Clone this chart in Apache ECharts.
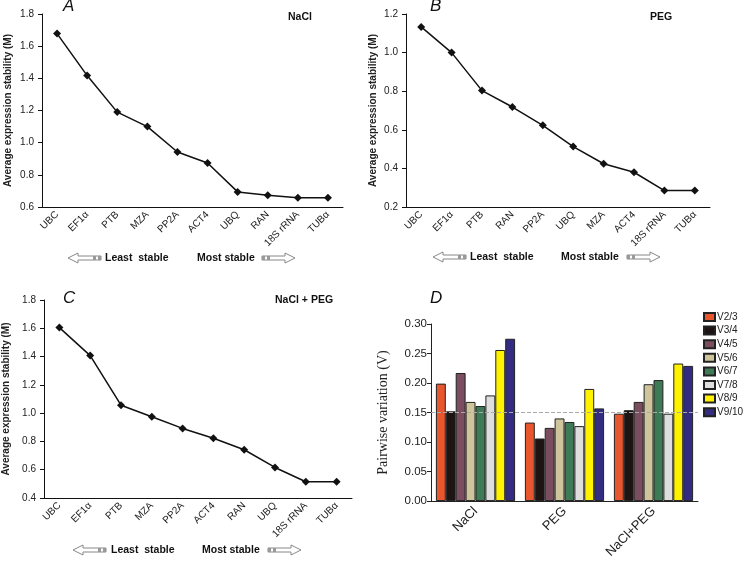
<!DOCTYPE html>
<html>
<head>
<meta charset="utf-8">
<script src="https://cdn.jsdelivr.net/npm/echarts@6/dist/echarts.min.js"></script>
<style>
  body { margin: 0; background: #fff; }
  #chart { width: 746px; height: 561px; }
</style>
</head>
<body>
<div id="chart"></div>
<script>
// panel A - NaCl
const catsNaCl = ['UBC', 'EF1α', 'PTB', 'MZA', 'PP2A', 'ACT4', 'UBQ', 'RAN', '18S rRNA', 'TUBα'];
const valsNaCl = [1.678, 1.417, 1.19, 1.10, 0.942, 0.874, 0.694, 0.673, 0.658, 0.658];
// panel B - PEG
const catsPEG = ['UBC', 'EF1α', 'PTB', 'RAN', 'PP2A', 'UBQ', 'MZA', 'ACT4', '18S rRNA', 'TUBα'];
const valsPEG = [1.133, 1.0, 0.803, 0.718, 0.623, 0.513, 0.424, 0.38, 0.285, 0.285];
// panel C - NaCl + PEG
const catsBoth = ['UBC', 'EF1α', 'PTB', 'MZA', 'PP2A', 'ACT4', 'RAN', 'UBQ', '18S rRNA', 'TUBα'];
const valsBoth = [1.605, 1.407, 1.056, 0.974, 0.892, 0.823, 0.741, 0.616, 0.515, 0.515];

// panel D - pairwise variation
const pairGroups = ['NaCl', 'PEG', 'NaCl+PEG'];
const pairNames = ['V2/3', 'V3/4', 'V4/5', 'V5/6', 'V6/7', 'V7/8', 'V8/9', 'V9/10'];
const v23 = [0.199, 0.133, 0.148];
const v34 = [0.152, 0.106, 0.154];
const v45 = [0.217, 0.124, 0.168];
const v56 = [0.168, 0.140, 0.198];
const v67 = [0.161, 0.134, 0.205];
const v78 = [0.179, 0.127, 0.148];
const v89 = [0.256, 0.190, 0.233];
const v910 = [0.275, 0.157, 0.229];
const pairValues = [v23, v34, v45, v56, v67, v78, v89, v910];
const pairColors = ['#e8562e', '#1e1414', '#7a4e5e', '#cfc59c', '#3f7a56', '#dedede', '#fff200', '#332c82'];
const cutoff = 0.15;

const sans = '"Liberation Sans", Arial, sans-serif';

function lineX(idx, cats) {
  return {
    type: 'category', gridIndex: idx, data: cats,
    axisLine: { lineStyle: { color: '#111', width: 1 } },
    axisTick: { interval: 0, length: 4, lineStyle: { color: '#111' } },
    axisLabel: { interval: 0, rotate: 45, fontSize: 10, color: '#222', fontFamily: sans, margin: 6 }
  };
}

function lineY(idx, min, max, gap) {
  return {
    type: 'value', gridIndex: idx, min: min, max: max, interval: 0.2,
    name: 'Average expression stability (M)', nameLocation: 'middle', nameGap: gap,
    nameTextStyle: { fontSize: 10, fontWeight: 'bold', color: '#222', fontFamily: sans },
    splitLine: { show: false },
    axisLine: { show: true, lineStyle: { color: '#111', width: 1 } },
    axisTick: { show: true, length: 4, lineStyle: { color: '#111' } },
    axisLabel: { fontSize: 10, color: '#222', fontFamily: sans, margin: 8, formatter: v => v.toFixed(1) }
  };
}

function lineSeries(idx, vals) {
  return {
    type: 'line', xAxisIndex: idx, yAxisIndex: idx, data: vals,
    symbol: 'diamond', symbolSize: 8,
    lineStyle: { color: '#111', width: 1.5 },
    itemStyle: { color: '#111' }
  };
}

function label(text, x, y, font, align) {
  return {
    type: 'text', x: x, y: y,
    style: { text: text, font: font, fill: '#111', textAlign: align || 'left', textVerticalAlign: 'middle' }
  };
}

// hollow arrow with a small striped block at its tail
function arrow(x, y, dir) {
  const L = 33;
  const base = [[0, 0], [10, -5], [10, -2], [L, -2], [L, 2], [10, 2], [10, 5]];
  const pts = base.map(p => dir < 0 ? [x + p[0], y + p[1]] : [x + L - p[0], y + p[1]]);
  const bx = dir < 0 ? x + L - 8 : x;
  return [
    { type: 'polygon', shape: { points: pts }, style: { fill: '#fff', stroke: '#888', lineWidth: 1 } },
    { type: 'rect', shape: { x: bx, y: y - 2, width: 3, height: 4 }, style: { fill: '#999' } },
    { type: 'rect', shape: { x: bx + 5, y: y - 2, width: 3, height: 4 }, style: { fill: '#999' } }
  ];
}

function stabilityRow(lx, tx1, tx2, rx, y) {
  return [].concat(
    arrow(lx, y, -1),
    [label('Least  stable', tx1, y, 'bold 10.5px ' + sans)],
    [label('Most stable', tx2, y, 'bold 10.5px ' + sans)],
    arrow(rx, y, 1)
  );
}

const chart = echarts.init(document.getElementById('chart'));

const barSeries = pairNames.map((name, i) => ({
  name: name, type: 'bar', xAxisIndex: 3, yAxisIndex: 3,
  data: pairValues[i], barGap: '0%', barCategoryGap: '11%',
  itemStyle: { color: pairColors[i], borderColor: '#222', borderWidth: 1 },
  markLine: i === 0 ? {
    silent: true, symbol: 'none', label: { show: false },
    lineStyle: { color: '#aaa', type: 'dashed', width: 1 },
    data: [{ yAxis: cutoff }]
  } : undefined
}));

chart.setOption({
  animation: false,
  grid: [
    { left: 42, top: 14, width: 301, height: 193 },
    { left: 406, top: 14, width: 304, height: 193 },
    { left: 43, top: 300, width: 309, height: 198 },
    { left: 431, top: 324, width: 267, height: 178 }
  ],
  xAxis: [
    lineX(0, catsNaCl),
    lineX(1, catsPEG),
    lineX(2, catsBoth),
    {
      type: 'category', gridIndex: 3, data: pairGroups,
      axisLine: { lineStyle: { color: '#222', width: 1 } },
      axisTick: { alignWithLabel: true, length: 4, lineStyle: { color: '#222' } },
      axisLabel: { rotate: 45, fontSize: 13, color: '#222', fontFamily: sans, margin: 8 }
    }
  ],
  yAxis: [
    lineY(0, 0.6, 1.8, 29),
    lineY(1, 0.2, 1.2, 28),
    lineY(2, 0.4, 1.8, 33),
    {
      type: 'value', gridIndex: 3, min: 0, max: 0.3, interval: 0.05,
      name: 'Pairwise variation (V)', nameLocation: 'middle', nameGap: 41,
      nameTextStyle: { fontSize: 14, color: '#222', fontFamily: '"Liberation Serif", "Times New Roman", serif' },
      splitLine: { show: false },
      axisLine: { show: true, lineStyle: { color: '#222', width: 1 } },
      axisTick: { show: true, length: 4, lineStyle: { color: '#222' } },
      axisLabel: { fontSize: 11.5, color: '#222', fontFamily: sans, margin: 4, formatter: v => v.toFixed(2) }
    }
  ],
  legend: {
    data: pairNames, orient: 'vertical', left: 703, top: 312, padding: 0,
    icon: 'rect', itemWidth: 11, itemHeight: 8, itemGap: 3.6,
    textStyle: { fontSize: 10, color: '#222', fontFamily: sans, padding: [0, 0, 0, -3] }
  },
  graphic: [].concat(
    [
      label('A', 63, 6, 'italic 17px ' + sans),
      label('NaCl', 288, 17, 'bold 10.5px ' + sans),
      label('B', 430, 6, 'italic 17px ' + sans),
      label('PEG', 650, 17, 'bold 10.5px ' + sans),
      label('C', 63, 298, 'italic 17px ' + sans),
      label('NaCl + PEG', 275, 300, 'bold 10.5px ' + sans),
      label('D', 430, 298, 'italic 17px ' + sans)
    ],
    stabilityRow(68, 105, 197, 262, 258),
    stabilityRow(433, 470, 561, 627, 257),
    stabilityRow(73, 111, 202, 268, 550)
  ),
  series: [
    lineSeries(0, valsNaCl),
    lineSeries(1, valsPEG),
    lineSeries(2, valsBoth)
  ].concat(barSeries)
});
</script>
</body>
</html>
